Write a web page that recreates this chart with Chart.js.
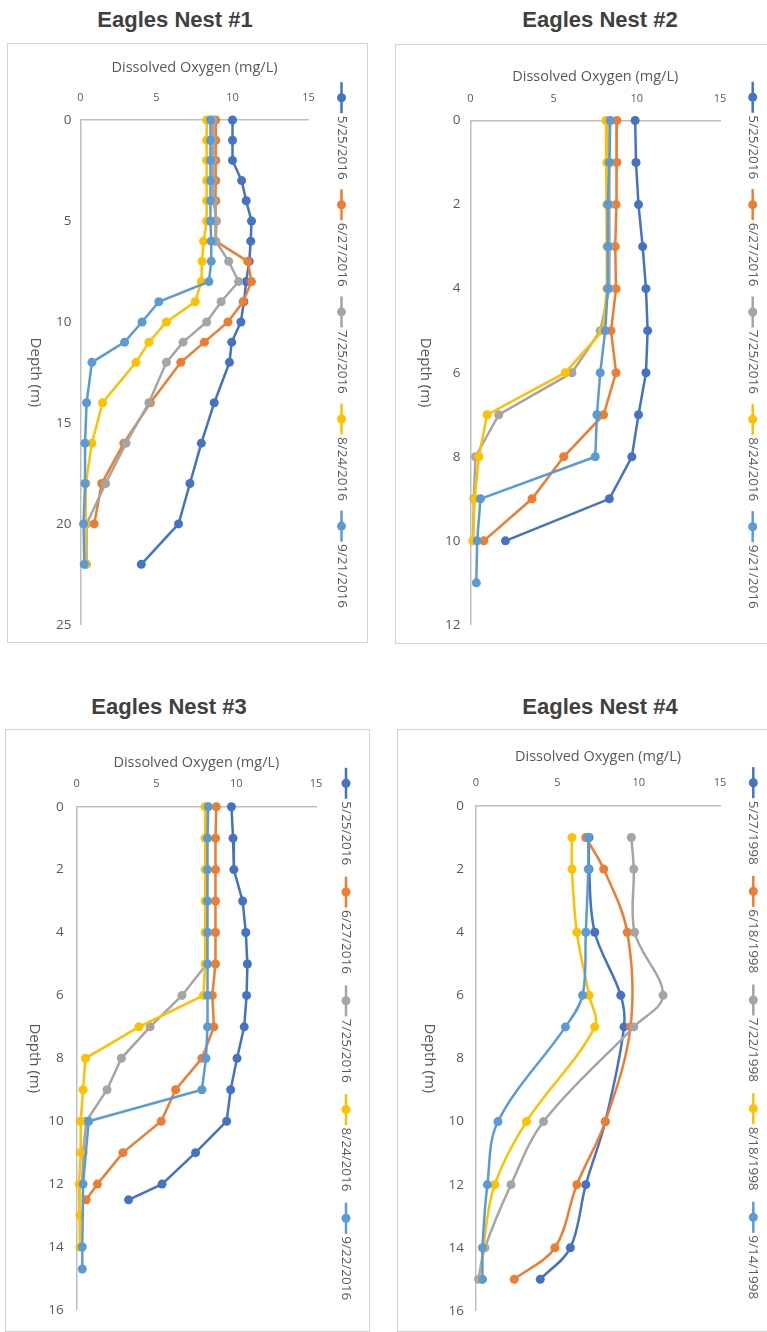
<!DOCTYPE html>
<html>
<head>
<meta charset="utf-8">
<title>Eagles Nest dissolved oxygen profiles</title>
<script src="https://cdn.jsdelivr.net/npm/chart.js@4.4.1/dist/chart.umd.min.js"></script>
<style>
  html, body { margin: 0; padding: 0; background: #ffffff; }
  body { position: relative; width: 767px; height: 1332px; overflow: hidden; }
  .title {
    position: absolute; width: 300px; text-align: center;
    font-family: "Liberation Sans", Arial, sans-serif; font-weight: bold;
    font-size: 22px; line-height: 22px; color: #404040; white-space: nowrap;
  }
  .frame { position: absolute; border: 1px solid #d4d4d4; box-sizing: border-box; }
  canvas { position: absolute; }
</style>
</head>
<body>
<div class="title" style="left:25px; top:9px;">Eagles Nest #1</div>
<div class="title" style="left:450px; top:9px;">Eagles Nest #2</div>
<div class="title" style="left:19px; top:696px;">Eagles Nest #3</div>
<div class="title" style="left:450px; top:696px;">Eagles Nest #4</div>

<div class="frame" style="left:7px; top:43px; width:361px; height:600px;"></div>
<div class="frame" style="left:395px; top:44px; width:380px; height:600px;"></div>
<div class="frame" style="left:5px; top:729px; width:365px; height:603px;"></div>
<div class="frame" style="left:397px; top:729px; width:380px; height:603px;"></div>

<canvas id="nest1" width="358" height="598" style="left:8px; top:44px;"></canvas>
<canvas id="nest2" width="374" height="598" style="left:396px; top:45px;"></canvas>
<canvas id="nest3" width="363" height="601" style="left:6px; top:730px;"></canvas>
<canvas id="nest4" width="372" height="601" style="left:398px; top:730px;"></canvas>

<script>
// ---- Axis ranges and titles ----
const doAxisTitle = 'Dissolved Oxygen (mg/L)';
const depthAxisTitle = 'Depth (m)';
const doMax = 15;
const doStep = 5;
const depthMax = [25, 12, 16, 16];
const depthStep = [5, 2, 2, 2];

// ---- Survey dates (legend labels) ----
const dates2016a = ['5/25/2016', '6/27/2016', '7/25/2016', '8/24/2016', '9/21/2016'];
const dates2016b = ['5/25/2016', '6/27/2016', '7/25/2016', '8/24/2016', '9/22/2016'];
const dates1998 = ['5/27/1998', '6/18/1998', '7/22/1998', '8/18/1998', '9/14/1998'];

// ---- Eagles Nest #1 : depth (m) and dissolved oxygen (mg/L) ----
const n1Depth = [0, 1, 2, 3, 4, 5, 6, 7, 8, 9, 10, 11, 12, 14, 16, 18, 20, 22];
const n1DepthB = [0, 1, 2, 3, 4, 5, 6, 7, 8, 9, 10, 11, 12, 14, 16, 18, 20];
const n1DO_0525 = [10.0, 10.0, 10.0, 10.6, 10.9, 11.25, 11.2, 11.1, 10.9, 10.75, 10.55, 9.95, 9.8, 8.8, 7.95, 7.2, 6.45, 4.0];
const n1DO_0627 = [8.9, 8.9, 8.9, 8.9, 8.9, 8.85, 8.85, 11.0, 11.25, 10.7, 9.7, 8.15, 6.6, 4.6, 2.85, 1.4, 0.9];
const n1DO_0725 = [8.7, 8.7, 8.7, 8.7, 8.75, 8.95, 8.9, 9.75, 10.4, 9.25, 8.3, 6.75, 5.65, 4.5, 3.0, 1.65, 0.4, 0.4];
const n1DO_0824 = [8.3, 8.3, 8.3, 8.3, 8.3, 8.3, 8.1, 8.0, 7.95, 7.55, 5.65, 4.5, 3.65, 1.45, 0.75, 0.35, 0.3, 0.35];
const n1DO_0921 = [8.55, 8.55, 8.55, 8.55, 8.55, 8.55, 8.6, 8.6, 8.45, 5.15, 4.05, 2.9, 0.75, 0.4, 0.3, 0.3, 0.2, 0.25];

// ---- Eagles Nest #2 ----
const n2Depth = [0, 1, 2, 3, 4, 5, 6, 7, 8, 9, 10];
const n2DepthB = [0, 1, 2, 3, 4, 5, 6, 7, 8, 9, 10, 11];
const n2DO_0525 = [9.9, 9.95, 10.1, 10.35, 10.55, 10.65, 10.55, 10.1, 9.7, 8.35, 2.1];
const n2DO_0627 = [8.8, 8.8, 8.75, 8.7, 8.75, 8.45, 8.75, 8.0, 5.6, 3.7, 0.8];
const n2DO_0725 = [8.35, 8.35, 8.35, 8.35, 8.35, 7.8, 6.1, 1.7, 0.3, 0.2, 0.15];
const n2DO_0824 = [8.15, 8.2, 8.2, 8.2, 8.2, 7.95, 5.7, 1.0, 0.5, 0.25, 0.15];
const n2DO_0921 = [8.4, 8.35, 8.25, 8.25, 8.25, 8.1, 7.8, 7.6, 7.5, 0.6, 0.4, 0.35];

// ---- Eagles Nest #3 ----
const n3DepthA = [0, 1, 2, 3, 4, 5, 6, 7, 8, 9, 10, 11, 12, 12.5];
const n3DepthC = [0, 1, 2, 3, 4, 5, 6, 7, 8, 9, 10, 11, 12];
const n3DepthD = [0, 1, 2, 3, 4, 5, 6, 7, 8, 9, 10, 11, 12, 13, 14];
const n3DepthE = [0, 1, 2, 3, 4, 5, 6, 7, 8, 9, 10, 12, 14, 14.7];
const n3DO_0525 = [9.7, 9.8, 9.85, 10.4, 10.6, 10.7, 10.65, 10.5, 10.05, 9.65, 9.4, 7.45, 5.35, 3.25];
const n3DO_0627 = [8.75, 8.7, 8.7, 8.7, 8.7, 8.7, 8.5, 8.6, 7.85, 6.2, 5.3, 2.9, 1.3, 0.6];
const n3DO_0725 = [8.15, 8.15, 8.15, 8.15, 8.15, 8.15, 6.6, 4.6, 2.8, 1.9, 0.6, 0.4, 0.35];
const n3DO_0824 = [8.05, 8.05, 8.05, 8.05, 8.05, 8.05, 7.95, 3.9, 0.55, 0.4, 0.25, 0.25, 0.15, 0.2, 0.2];
const n3DO_0922 = [8.25, 8.2, 8.2, 8.2, 8.2, 8.2, 8.2, 8.2, 8.1, 7.85, 0.75, 0.4, 0.35, 0.35];

// ---- Eagles Nest #4 (1998) ----
const n4Depth = [1, 2, 4, 6, 7, 10, 12, 14, 15];
const n4DepthB = [1, 2, 4, 7, 10, 12, 14, 15];
const n4DO_0527 = [6.95, 6.95, 7.3, 8.9, 9.1, 7.95, 6.75, 5.8, 3.95];
const n4DO_0618 = [6.75, 7.85, 9.3, 9.5, 7.95, 6.2, 4.85, 2.35];
const n4DO_0722 = [9.55, 9.7, 9.75, 11.5, 9.7, 4.15, 2.15, 0.55, 0.15];
const n4DO_0818 = [5.9, 5.9, 6.2, 6.95, 7.3, 3.1, 1.15, 0.45, 0.35];
const n4DO_0914 = [6.9, 6.9, 6.75, 6.55, 5.5, 1.35, 0.7, 0.4, 0.4];

// Office-style series colours
const seriesColors = ['#4472C4', '#ED7D31', '#A5A5A5', '#FFC000', '#5B9BD5'];
const TEXT = '#595959';
const AXIS = '#bfbfbf';
const FONT = '"Open Sans", "DejaVu Sans", sans-serif';

const toPoints = (depths, values) => depths.map((d, i) => ({ x: values[i], y: d }));

// Draws the clockwise-turned depth title and the vertical legend strip
const sideText = {
  id: 'sideText',
  afterDraw(chart, args, o) {
    const { ctx, chartArea } = chart;
    ctx.save();
    ctx.fillStyle = TEXT;
    ctx.font = '15px ' + FONT;
    ctx.translate(o.yTitleX, (chartArea.top + chartArea.bottom) / 2);
    ctx.rotate(Math.PI / 2);
    ctx.textAlign = 'center';
    ctx.textBaseline = 'middle';
    ctx.fillText(o.yTitle, 0, 0);
    ctx.restore();

    chart.data.datasets.forEach((ds, i) => {
      const x = o.legendX;
      const cy = o.legendY + i * o.legendPitch;
      ctx.save();
      ctx.strokeStyle = ds.borderColor;
      ctx.lineWidth = 2.5;
      ctx.beginPath();
      ctx.moveTo(x, cy - 15.5);
      ctx.lineTo(x, cy + 15.5);
      ctx.stroke();
      ctx.fillStyle = ds.backgroundColor;
      ctx.beginPath();
      ctx.arc(x, cy, 4.5, 0, Math.PI * 2);
      ctx.fill();
      ctx.fillStyle = TEXT;
      ctx.font = '13.5px ' + FONT;
      ctx.translate(x, cy + 18);
      ctx.rotate(Math.PI / 2);
      ctx.textAlign = 'left';
      ctx.textBaseline = 'middle';
      ctx.fillText(ds.label, 0, 0);
      ctx.restore();
    });
  }
};

function profileChart(id, idx, labels, series, g) {
  const datasets = series.map((s, i) => ({
    label: labels[i],
    data: toPoints(s[0], s[1]),
    showLine: true,
    borderColor: seriesColors[i],
    backgroundColor: seriesColors[i],
    borderWidth: 2.5,
    pointRadius: 4.5,
    pointBorderWidth: 0,
    pointHoverRadius: 4.5,
    tension: g.smooth ? 0.35 : 0,
    clip: false,
    order: series.length - i
  }));
  const canvas = document.getElementById(id);
  return new Chart(canvas, {
    type: 'scatter',
    data: { datasets },
    options: {
      responsive: false,
      animation: false,
      devicePixelRatio: 1,
      layout: { padding: { left: 0, top: 0, right: canvas.width - g.area.r, bottom: canvas.height - g.area.b } },
      plugins: {
        legend: { display: false },
        tooltip: { enabled: false },
        sideText: {
          yTitle: depthAxisTitle, yTitleX: g.yTitleX,
          legendX: g.legendX, legendY: g.legendY, legendPitch: g.legendPitch
        }
      },
      scales: {
        x: {
          type: 'linear', position: 'top', min: 0, max: doMax,
          grid: { display: false, drawTicks: false },
          border: { display: true, color: AXIS, width: 1.5 },
          ticks: { stepSize: doStep, padding: g.xTickPad, color: TEXT, font: { family: FONT, size: 11 } },
          title: { display: true, text: doAxisTitle, color: TEXT, padding: { top: g.xTitlePad, bottom: 0 }, font: { family: FONT, size: 14.5 } },
          afterFit: (sc) => { sc.height = g.area.t; }
        },
        y: {
          type: 'linear', position: 'left', reverse: true, min: 0, max: depthMax[idx],
          grid: { display: false, drawTicks: false },
          border: { display: true, color: AXIS, width: 1.5 },
          ticks: { stepSize: depthStep[idx], padding: g.yTickPad, color: TEXT, font: { family: FONT, size: 13.5 } },
          title: { display: false },
          afterFit: (sc) => { sc.width = g.area.l; }
        }
      }
    },
    plugins: [sideText]
  });
}

profileChart('nest1', 0, dates2016a, [
  [n1Depth, n1DO_0525], [n1DepthB, n1DO_0627], [n1Depth, n1DO_0725], [n1Depth, n1DO_0824], [n1Depth, n1DO_0921]
], { area: { l: 72.5, t: 76, r: 300.5, b: 581 }, xTitlePad: 15.3, xTickPad: 15.4, yTickPad: 9,
     yTitleX: 27.5, legendX: 333.5, legendY: 53.7, legendPitch: 107.1, smooth: false });

profileChart('nest2', 1, dates2016a, [
  [n2Depth, n2DO_0525], [n2Depth, n2DO_0627], [n2Depth, n2DO_0725], [n2Depth, n2DO_0824], [n2DepthB, n2DO_0921]
], { area: { l: 74.5, t: 75.5, r: 324, b: 580 }, xTitlePad: 23.3, xTickPad: 14.9, yTickPad: 10,
     yTitleX: 29.5, legendX: 356.7, legendY: 52.3, legendPitch: 107.35, smooth: false });

profileChart('nest3', 2, dates2016b, [
  [n3DepthA, n3DO_0525], [n3DepthA, n3DO_0627], [n3DepthC, n3DO_0725], [n3DepthD, n3DO_0824], [n3DepthE, n3DO_0922]
], { area: { l: 70.7, t: 76.7, r: 310, b: 587.3 }, xTitlePad: 24.3, xTickPad: 16.1, yTickPad: 13,
     yTitleX: 28, legendX: 340, legendY: 53.3, legendPitch: 108.75, smooth: false });

profileChart('nest4', 3, dates1998, [
  [n4Depth, n4DO_0527], [n4DepthB, n4DO_0618], [n4Depth, n4DO_0722], [n4Depth, n4DO_0818], [n4Depth, n4DO_0914]
], { area: { l: 78, t: 76, r: 322, b: 586.7 }, xTitlePad: 18.3, xTickPad: 16.4, yTickPad: 12,
     yTitleX: 31, legendX: 355.3, legendY: 52.7, legendPitch: 108.65, smooth: true });
</script>
</body>
</html>
